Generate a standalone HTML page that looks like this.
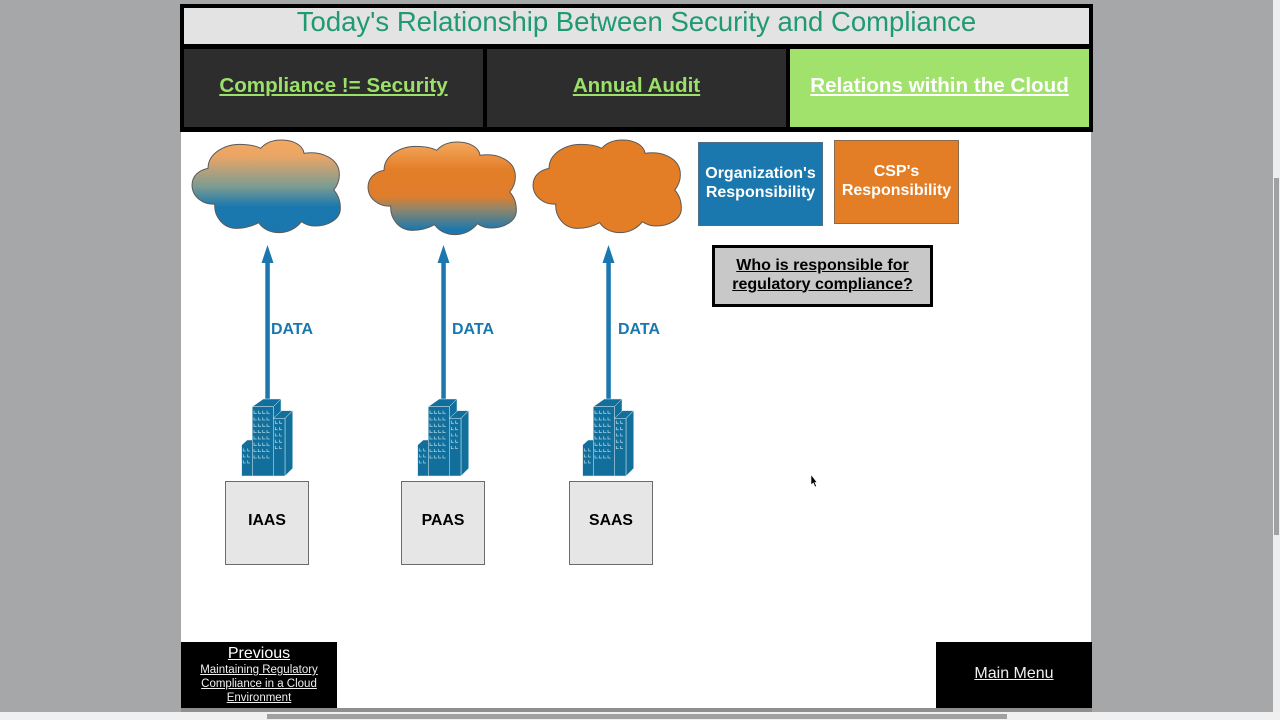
<!DOCTYPE html>
<html><head><meta charset="utf-8"><style>
html,body{margin:0;padding:0;width:1280px;height:720px;overflow:hidden;background:#a6a7a9}
body{position:relative;font-family:"Liberation Sans",sans-serif}
.a{position:absolute;box-sizing:border-box}
.t{position:absolute;text-align:center;white-space:nowrap}
.u{text-decoration:underline}
.b{font-weight:bold}
</style></head><body>
<div class="a" style="left:181px;top:130px;width:910px;height:580px;background:#fff"></div>
<div class="a" style="left:180px;top:4px;width:913px;height:128px;background:#000"></div>
<div class="a" style="left:184px;top:8px;width:905px;height:36px;background:#e3e3e3"></div>
<div class="t" style="left:184px;top:5px;width:905px;font-size:27.5px;line-height:34px;color:#1f9a73">Today's Relationship Between Security and Compliance</div>
<div class="a" style="left:184px;top:49px;width:299px;height:78px;background:#2d2d2d"></div>
<div class="a" style="left:487px;top:49px;width:299px;height:78px;background:#2d2d2d"></div>
<div class="a" style="left:790px;top:49px;width:299px;height:78px;background:#a0e26c"></div>
<div class="t b u" style="left:184px;top:73px;width:299px;font-size:20.6px;line-height:26px;color:#9be069">Compliance != Security</div>
<div class="t b u" style="left:487px;top:73px;width:299px;font-size:20.6px;line-height:26px;color:#9be069">Annual Audit</div>
<div class="t b u" style="left:790px;top:73px;width:299px;font-size:20.6px;line-height:26px;color:#fff">Relations within the Cloud</div>

<svg class="a" style="left:0;top:0" width="1280" height="720" viewBox="0 0 1280 720">
<defs>
<linearGradient id="g1" x1="0" y1="0" x2="0" y2="1"><stop offset="0" stop-color="#f5a85f"/><stop offset=".18" stop-color="#e8a566"/><stop offset=".5" stop-color="#7c9c92"/><stop offset=".72" stop-color="#1a78ae"/><stop offset="1" stop-color="#1a78ae"/></linearGradient>
<linearGradient id="g2" x1="0" y1="0" x2="0" y2="1"><stop offset="0" stop-color="#f4a85f"/><stop offset=".3" stop-color="#e37e28"/><stop offset=".58" stop-color="#e07d2a"/><stop offset=".72" stop-color="#93866a"/><stop offset=".95" stop-color="#1a78ae"/><stop offset="1" stop-color="#1a78ae"/></linearGradient>
<path id="cl" transform="translate(-12.300 -10) scale(.3333)" d="M85 115 C85 70 135 43 180 43 C205 43 228 47 243 55 C258 38 280 30 305 30 C340 30 370 45 373 70 C425 62 480 85 479 135 C479 152 472 168 462 180 C476 195 482 215 482 235 C482 268 445 288 405 288 C390 288 377 283 365 275 C350 295 325 308 298 308 C272 308 250 297 237 278 C215 290 192 295 170 295 C130 295 103 260 105 222 C70 225 37 200 37 165 C37 138 58 120 85 115Z" stroke="#5a5a5a" stroke-width="3"/>
<g id="bd">
<g fill="#126f9c" stroke="#dcecf3" stroke-width="1.5" stroke-linejoin="round">
<path d="M97 50 L130 27 L183 27 L160 50Z"/>
<path d="M160 50 L183 27 L183 70 L160 90Z"/>
<path d="M65 165 L82 150 L97 150 L97 258 L65 258Z"/>
<path d="M97 50 H160 V258 H97Z"/>
<path d="M160 85 L185 62 L218 62 L195 85Z"/>
<path d="M195 85 L218 62 L218 235 L195 258Z"/>
<path d="M160 85 H195 V258 H160Z"/>
</g>
<path d="M102 62v8h8M115 62v8h8M128 62v8h8M141 62v8h8 M102 82v8h8M115 82v8h8M128 82v8h8M141 82v8h8 M102 101v8h8M115 101v8h8M128 101v8h8M141 101v8h8 M102 120v8h8M115 120v8h8M128 120v8h8M141 120v8h8 M102 139v8h8M115 139v8h8M128 139v8h8M141 139v8h8 M102 158v8h8M115 158v8h8M128 158v8h8M141 158v8h8 M102 177v8h8M115 177v8h8M128 177v8h8M141 177v8h8 M102 196v8h8M115 196v8h8M128 196v8h8M141 196v8h8 M166 92v8h7M179 92v8h7 M166 111v8h7M179 111v8h7 M166 130v8h7M179 130v8h7 M166 149v8h7M179 149v8h7 M166 168v8h7M179 168v8h7 M70 175v8h7M83 175v8h7 M70 193v8h7M83 193v8h7 M70 211v8h7M83 211v8h7" fill="none" stroke="#9fd0e2" stroke-width="2.4"/>
</g>
</defs>
<use href="#cl" x="192" y="140" fill="url(#g1)"/>
<use href="#cl" x="368" y="142" fill="url(#g2)"/>
<use href="#cl" x="533" y="140" fill="#e37e27"/>

<g fill="#1a78ae">
<rect x="265.300" y="262" width="4.500" height="140"/><path d="M267.5 245 L273.5 263 H261.5Z"/>
<rect x="441.300" y="262" width="4.500" height="140"/><path d="M443.5 245 L449.5 263 H437.5Z"/>
<rect x="606.300" y="262" width="4.500" height="140"/><path d="M608.5 245 L614.5 263 H602.5Z"/>
</g>
<use href="#bd" transform="translate(220 390) scale(.3333)"/>
<use href="#bd" transform="translate(396 390) scale(.3333)"/>
<use href="#bd" transform="translate(561 390) scale(.3333)"/>
<path d="M811 474.500 V485 L813.300 483 L815 487 L816.500 486 L814.800 482.500 H817Z" fill="#000" stroke="#fff" stroke-width=".6"/>
</svg>

<div class="t b" style="left:271px;top:320px;font-size:16px;line-height:19px;color:#1a78ae">DATA</div>
<div class="t b" style="left:452px;top:320px;font-size:16px;line-height:19px;color:#1a78ae">DATA</div>
<div class="t b" style="left:618px;top:320px;font-size:16px;line-height:19px;color:#1a78ae">DATA</div>

<div class="a" style="left:698px;top:142px;width:125px;height:84px;background:#1a78ae;border:1px solid #4d6f87"></div>
<div class="t b" style="left:698px;top:163.500px;width:125px;font-size:16px;line-height:19px;color:#fff">Organization's<br>Responsibility</div>
<div class="a" style="left:834px;top:140px;width:125px;height:84px;background:#e37e27;border:1px solid #8b6a4e"></div>
<div class="t b" style="left:834px;top:162px;width:125px;font-size:16px;line-height:19px;color:#fff">CSP's<br>Responsibility</div>
<div class="a" style="left:712px;top:245px;width:221px;height:62px;background:#c8c8c8;border:3px solid #000"></div>
<div class="t b u" style="left:712px;top:255.500px;width:221px;font-size:16px;line-height:19px;color:#000">Who is responsible for<br>regulatory compliance?</div>

<div class="a" style="left:225px;top:481px;width:84px;height:84px;background:#e6e6e6;border:1px solid #6b6b6b"></div>
<div class="a" style="left:401px;top:481px;width:84px;height:84px;background:#e6e6e6;border:1px solid #6b6b6b"></div>
<div class="a" style="left:569px;top:481px;width:84px;height:84px;background:#e6e6e6;border:1px solid #6b6b6b"></div>
<div class="t b" style="left:225px;top:511px;width:84px;font-size:15.8px;line-height:19px;color:#000">IAAS</div>
<div class="t b" style="left:401px;top:511px;width:84px;font-size:15.8px;line-height:19px;color:#000">PAAS</div>
<div class="t b" style="left:569px;top:511px;width:84px;font-size:15.8px;line-height:19px;color:#000">SAAS</div>

<div class="a" style="left:181px;top:642px;width:156px;height:67px;background:#000"></div>
<div class="t u" style="left:181px;top:643.500px;width:156px;font-size:16px;line-height:19px;color:#fff">Previous</div>
<div class="t u" style="left:181px;top:663px;width:156px;font-size:11.5px;line-height:14px;color:#f0f0f0">Maintaining Regulatory<br>Compliance in a Cloud<br>Environment</div>
<div class="a" style="left:936px;top:642px;width:156px;height:67px;background:#000"></div>
<div class="t u" style="left:936px;top:664px;width:156px;font-size:16px;line-height:19px;color:#f0f0f0">Main Menu</div>

<div class="a" style="left:181px;top:708px;width:911px;height:4px;background:#8f8f8f"></div>
<div class="a" style="left:1273px;top:0;width:7px;height:720px;background:#efeeef"></div>
<div class="a" style="left:1274px;top:178px;width:5px;height:357px;background:#a1a1a3"></div>
<div class="a" style="left:0;top:712px;width:1280px;height:8px;background:#f0f0f0"></div>
<div class="a" style="left:267px;top:714px;width:740px;height:5px;background:#a0a0a0"></div>
</body></html>
